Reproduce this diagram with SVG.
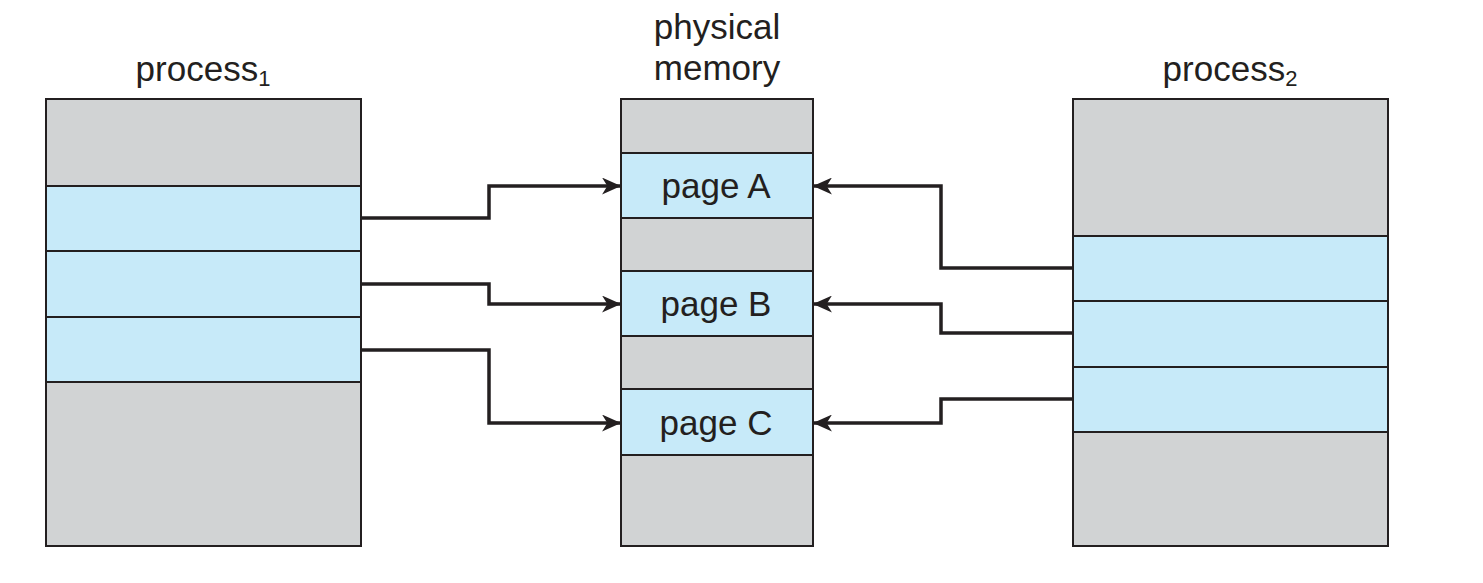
<svg xmlns="http://www.w3.org/2000/svg" width="1483" height="583" viewBox="0 0 1483 583">
<style>
.gray{fill:#d1d3d4;stroke:#231f20;stroke-width:2}
.blue{fill:#c7eaf9;stroke:#231f20;stroke-width:2}
.lbl{font-family:"Liberation Sans",Arial,sans-serif;font-size:35px;fill:#231f20}
.conn{fill:none;stroke:#231f20;stroke-width:3.5;stroke-linejoin:miter}
</style>
<defs>
<marker id="ah" viewBox="0 0 18 16" refX="17" refY="8" markerWidth="19" markerHeight="17" markerUnits="userSpaceOnUse" orient="auto">
<path d="M0,0 L18,8 L0,16 L5,8 Z" fill="#231f20"/>
</marker>
</defs>
<rect width="1483" height="583" fill="#fff"/>
<g id="process1">
<text class="lbl" x="203" y="81" text-anchor="middle">process<tspan font-size="22" dy="5">1</tspan></text>
<rect class="gray" x="46" y="99" width="315" height="447"/>
<rect class="blue" x="46" y="186" width="315" height="65"/>
<rect class="blue" x="46" y="251" width="315" height="66"/>
<rect class="blue" x="46" y="317" width="315" height="65"/>
</g>
<g id="physical-memory">
<text class="lbl" x="717" y="39" text-anchor="middle">physical</text>
<text class="lbl" x="717" y="80" text-anchor="middle">memory</text>
<rect class="gray" x="621" y="99" width="192" height="447"/>
<rect class="blue" x="621" y="153" width="192" height="65"/>
<rect class="blue" x="621" y="271" width="192" height="65"/>
<rect class="blue" x="621" y="389" width="192" height="66"/>
<text class="lbl" x="716" y="198" text-anchor="middle">page A</text>
<text class="lbl" x="716" y="316" text-anchor="middle">page B</text>
<text class="lbl" x="716" y="435" text-anchor="middle">page C</text>
</g>
<g id="process2">
<text class="lbl" x="1230" y="81" text-anchor="middle">process<tspan font-size="22" dy="5">2</tspan></text>
<rect class="gray" x="1073" y="99" width="315" height="447"/>
<rect class="blue" x="1073" y="236" width="315" height="65"/>
<rect class="blue" x="1073" y="301" width="315" height="66"/>
<rect class="blue" x="1073" y="367" width="315" height="65"/>
</g>
<g id="connectors">
<path class="conn" d="M361,218 H489 V186 H620" marker-end="url(#ah)"/>
<path class="conn" d="M361,284 H489 V304 H620" marker-end="url(#ah)"/>
<path class="conn" d="M361,350 H489 V423 H620" marker-end="url(#ah)"/>
<path class="conn" d="M1073,268 H941 V186 H814" marker-end="url(#ah)"/>
<path class="conn" d="M1073,333 H941 V304 H814" marker-end="url(#ah)"/>
<path class="conn" d="M1073,399 H941 V423 H814" marker-end="url(#ah)"/>
</g>
</svg>
